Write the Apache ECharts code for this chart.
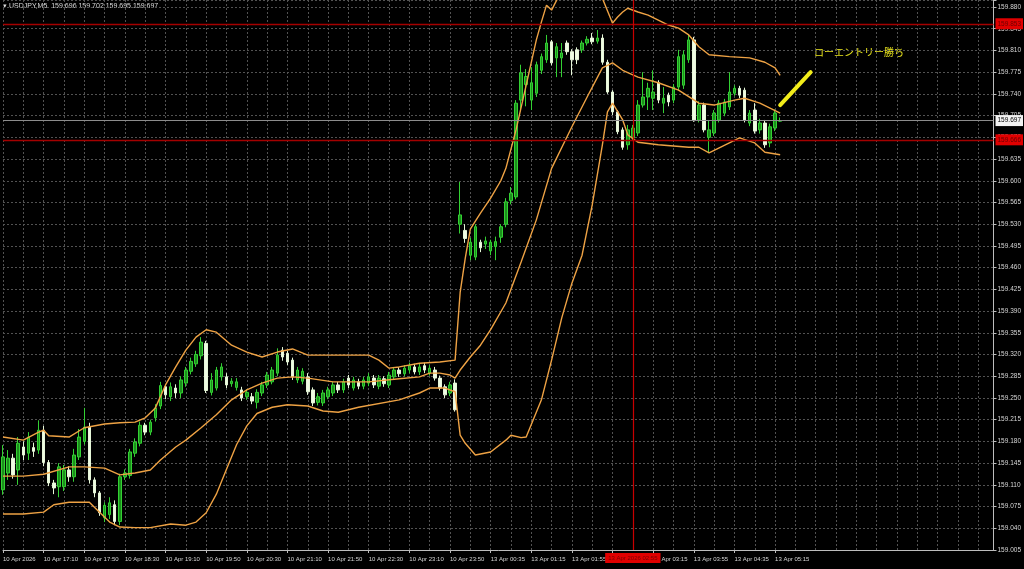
<!DOCTYPE html>
<html>
<head>
<meta charset="utf-8">
<script src="https://cdn.jsdelivr.net/npm/echarts/dist/echarts.min.js"></script>
<style>html,body{margin:0;padding:0;background:#000;}#c{width:1024px;height:569px;}</style>
</head>
<body>
<div id="c"></div>
<script>
// ---- data (USDJPY M5) ----
const headerText = '\u25BE USDJPY,M5  159.696 159.702 159.695 159.697';
const annotationText = 'ローエントリー勝ち';

const opens = [
159.102,159.129,159.153,159.134,159.171,159.161,159.170,159.166,159.198,159.146,
159.113,159.107,159.107,159.134,159.123,159.155,159.180,159.203,159.118,159.097,
159.057,159.062,159.078,159.051,159.123,159.125,159.161,159.177,159.206,159.195,
159.218,159.237,159.268,159.252,159.266,159.258,159.274,159.293,159.305,159.318,
159.338,159.259,159.266,159.284,159.284,159.273,159.267,159.263,159.252,159.252,
159.243,159.258,159.271,159.276,159.290,159.327,159.322,159.311,159.279,159.277,
159.284,159.263,159.243,159.242,159.252,159.258,159.271,159.263,159.282,159.266,
159.276,159.269,159.274,159.282,159.269,159.281,159.271,159.284,159.295,159.289,
159.295,159.300,159.292,159.302,159.290,159.295,159.282,159.268,159.258,159.274,
159.530,159.520,159.480,159.477,159.501,159.498,159.487,159.494,159.509,159.530,
159.568,159.574,159.730,159.755,159.730,159.741,159.778,159.795,159.824,159.798,
159.798,159.822,159.808,159.811,159.811,159.822,159.830,159.825,159.830,159.791,
159.743,159.711,159.682,159.658,159.669,159.677,159.722,159.735,159.733,159.758,
159.725,159.738,159.730,159.751,159.754,159.795,159.827,159.698,159.722,159.670,
159.677,159.698,159.709,159.719,159.741,159.749,159.746,159.693,159.714,159.682,
159.693,159.661,159.685,159.696];
const closes = [
159.155,159.153,159.126,159.177,159.158,159.187,159.164,159.198,159.146,159.113,
159.105,159.139,159.134,159.123,159.158,159.187,159.203,159.118,159.097,159.065,
159.077,159.081,159.051,159.123,159.129,159.163,159.179,159.206,159.195,159.211,
159.234,159.270,159.255,159.268,159.258,159.279,159.295,159.309,159.320,159.340,
159.262,159.279,159.295,159.300,159.271,159.277,159.276,159.250,159.259,159.245,
159.259,159.271,159.287,159.295,159.319,159.316,159.308,159.284,159.295,159.293,
159.260,159.242,159.252,159.258,159.263,159.271,159.263,159.276,159.271,159.279,
159.269,159.279,159.284,159.271,159.282,159.273,159.287,159.295,159.289,159.298,
159.302,159.292,159.300,159.295,159.298,159.282,159.266,159.255,159.271,159.231,
159.545,159.507,159.501,159.526,159.492,159.503,159.501,159.502,159.526,159.566,
159.580,159.725,159.774,159.768,159.758,159.787,159.800,159.822,159.790,159.816,
159.806,159.808,159.795,159.795,159.822,159.828,159.824,159.830,159.791,159.743,
159.711,159.679,159.654,159.682,159.685,159.722,159.735,159.749,159.743,159.730,
159.733,159.727,159.751,159.800,159.803,159.827,159.698,159.722,159.682,159.682,
159.709,159.725,159.727,159.743,159.749,159.738,159.698,159.709,159.680,159.693,
159.658,159.687,159.709,159.697];
const lows = [
159.094,159.118,159.120,159.110,159.150,159.150,159.155,159.160,159.140,159.108,
159.095,159.090,159.100,159.115,159.115,159.150,159.175,159.112,159.090,159.060,
159.050,159.055,159.045,159.045,159.118,159.120,159.155,159.172,159.190,159.190,
159.212,159.232,159.248,159.245,159.250,159.250,159.268,159.288,159.300,159.312,
159.258,159.254,159.262,159.278,159.266,159.268,159.262,159.245,159.247,159.240,
159.233,159.253,159.266,159.272,159.285,159.310,159.303,159.279,159.274,159.272,
159.255,159.237,159.238,159.237,159.248,159.253,159.258,159.258,159.266,159.262,
159.264,159.264,159.269,159.266,159.264,159.268,159.266,159.280,159.284,159.285,
159.290,159.288,159.287,159.290,159.286,159.278,159.262,159.250,159.253,159.228,
159.515,159.500,159.472,159.472,159.485,159.490,159.480,159.472,159.500,159.525,
159.562,159.570,159.714,159.720,159.714,159.735,159.772,159.790,159.786,159.767,
159.767,159.803,159.770,159.788,159.806,159.818,159.820,159.821,159.787,159.740,
159.706,159.675,159.650,159.650,159.664,159.672,159.718,159.714,159.714,159.725,
159.709,159.720,159.725,159.745,159.748,159.790,159.695,159.694,159.678,159.646,
159.672,159.694,159.704,159.714,159.737,159.733,159.694,159.688,159.676,159.676,
159.653,159.654,159.680,159.695];
const highs = [
159.174,159.166,159.160,159.187,159.180,159.195,159.178,159.214,159.205,159.150,
159.118,159.145,159.142,159.140,159.168,159.200,159.234,159.210,159.122,159.100,
159.082,159.090,159.085,159.128,159.135,159.168,159.185,159.212,159.210,159.215,
159.240,159.276,159.272,159.275,159.272,159.285,159.300,159.315,159.326,159.348,
159.342,159.290,159.300,159.306,159.290,159.282,159.282,159.268,159.264,159.258,
159.264,159.276,159.292,159.300,159.330,159.332,159.326,159.315,159.300,159.298,
159.290,159.267,159.258,159.263,159.268,159.276,159.276,159.281,159.287,159.284,
159.281,159.284,159.290,159.287,159.287,159.285,159.292,159.300,159.300,159.303,
159.307,159.305,159.305,159.307,159.303,159.300,159.286,159.272,159.276,159.280,
159.598,159.530,159.508,159.530,159.505,159.510,159.505,159.510,159.530,159.572,
159.590,159.730,159.787,159.780,159.783,159.792,159.805,159.835,159.827,159.822,
159.822,159.826,159.812,159.815,159.826,159.833,159.838,159.843,159.836,159.795,
159.746,159.714,159.686,159.690,159.690,159.730,159.775,159.758,159.778,159.762,
159.751,159.742,159.756,159.811,159.810,159.835,159.832,159.728,159.726,159.698,
159.714,159.730,159.732,159.775,159.754,159.753,159.750,159.714,159.725,159.700,
159.698,159.692,159.715,159.702];

// Bollinger band readings (bar index, price)
const upperIdx = [0,4,7,8,9,13,16,20,23,26,28,30,32,34,36,38,40,42,45,48,51,54,57,60,65,72,74,76,78,82,86,89,90,91,92,94,96,98,99,101,103,105,106,107,108,109,110,113,116,118,120,121,122,123,125,127,129,131,133,135,137,139,143,147,150,152,153];
const upperVal = [159.187,159.182,159.195,159.198,159.189,159.187,159.202,159.208,159.210,159.211,159.218,159.234,159.271,159.300,159.327,159.348,159.360,159.356,159.335,159.324,159.316,159.324,159.329,159.319,159.319,159.319,159.311,159.298,159.300,159.306,159.308,159.311,159.420,159.475,159.522,159.548,159.572,159.600,159.620,159.682,159.754,159.827,159.856,159.883,159.875,159.891,159.910,159.940,159.930,159.894,159.854,159.864,159.872,159.878,159.872,159.867,159.859,159.851,159.846,159.835,159.816,159.803,159.800,159.798,159.791,159.782,159.770];
const middleIdx = [0,4,8,13,16,20,23,26,29,31,34,36,39,42,45,48,51,54,57,60,65,72,78,82,84,86,88,89,90,92,94,96,99,102,105,108,112,115,118,120,122,125,129,133,137,140,144,146,149,153];
const middleVal = [159.124,159.124,159.127,159.139,159.139,159.137,159.126,159.129,159.134,159.150,159.171,159.182,159.202,159.223,159.247,159.263,159.274,159.282,159.284,159.282,159.276,159.276,159.281,159.284,159.290,159.290,159.287,159.282,159.295,159.316,159.335,159.360,159.403,159.469,159.537,159.620,159.687,159.735,159.782,159.790,159.778,159.767,159.758,159.746,159.725,159.722,159.730,159.733,159.725,159.709];
const lowerIdx = [0,4,8,10,13,17,19,21,23,26,29,33,36,38,40,42,44,46,48,50,53,56,60,63,66,70,78,82,84,87,89,90,91,93,96,99,100,102,103,106,108,110,112,114,116,118,119,120,122,123,125,129,135,137,139,141,145,148,150,153];
const lowerVal = [159.063,159.063,159.066,159.078,159.082,159.082,159.066,159.050,159.042,159.041,159.041,159.047,159.045,159.050,159.065,159.095,159.135,159.175,159.205,159.225,159.235,159.239,159.237,159.229,159.227,159.235,159.247,159.258,159.266,159.266,159.260,159.190,159.177,159.158,159.163,159.182,159.190,159.186,159.187,159.247,159.311,159.379,159.435,159.480,159.561,159.658,159.711,159.725,159.698,159.674,159.662,159.658,159.654,159.654,159.645,159.653,159.669,159.661,159.646,159.642];

// time-axis tick labels (every 8 bars)
const tickIdx = [0,8,16,24,32,40,48,56,64,72,80,88,96,104,112,120,128,136,144,152];
const tickLabels = ['10 Apr 2026','10 Apr 17:10','10 Apr 17:50','10 Apr 18:30','10 Apr 19:10','10 Apr 19:50','10 Apr 20:30','10 Apr 21:10','10 Apr 21:50','10 Apr 22:30','10 Apr 23:10','10 Apr 23:50','13 Apr 00:35','13 Apr 01:15','13 Apr 01:55','13 Apr 02:35','13 Apr 03:15','13 Apr 03:55','13 Apr 04:35','13 Apr 05:15'];

// horizontal levels
const redLevels = [159.853, 159.666];
const bidPrice = 159.697;
const cursorBar = 124;
const cursorLabel = '13 Apr 2026 02:55';
const arrowFrom = [153, 159.722];
const arrowTo = [159, 159.775];

// ---- categories (M5 bars + empty right shift) ----
function pad(n){return (n<10?'0':'')+n;}
const times = [];
for (let k=0;k<90;k++){const m=16*60+30+5*k;times.push('10 Apr '+pad(Math.floor(m/60))+':'+pad(m%60));}
for (let k=0;k<64;k++){const m=5+5*k;times.push('13 Apr '+pad(Math.floor(m/60))+':'+pad(m%60));}
while (times.length<196) times.push('');

const labelMap = {};
tickIdx.forEach((t,k)=>{labelMap[t]=tickLabels[k];});

const candleData = opens.map((o,i)=>[o, closes[i], lows[i], highs[i]]);
const pairs = (idx, val) => idx.map((x,k)=>[x, val[k]]);

const chart = echarts.init(document.getElementById('c'), null, {renderer:'canvas'});
const bandColor = '#eea244';
const gridColor = '#525252';
const axisTextColor = '#d6d6d6';
const fontFam = 'Liberation Sans, Arial, sans-serif';

function bandSeries(name, data){
  return {name, type:'line', data, showSymbol:false, symbol:'none', z:3,
    lineStyle:{color:bandColor, width:1.4}, connectNulls:true, animation:false, silent:true};
}

chart.setOption({
  backgroundColor:'#000000',
  animation:false,
  grid:{left:-1, right:27, top:0, bottom:19},
  xAxis:{
    type:'category', data:times, boundaryGap:false,
    axisLine:{show:true, lineStyle:{color:'#bdbdbd', width:1}},
    axisTick:{show:true, length:3, interval:(i)=>labelMap[i]!==undefined, lineStyle:{color:'#bdbdbd'}},
    axisLabel:{interval:(i)=>labelMap[i]!==undefined, formatter:(v,i)=>labelMap[i]||'', color:axisTextColor,
      fontSize:6, fontFamily:fontFam, align:'left', margin:6},
    splitLine:{show:true, interval:(i)=>i%4===0, lineStyle:{color:gridColor, type:[2,2], width:1}}
  },
  yAxis:{
    type:'value', position:'right', min:159.005, max:159.8913, interval:0.035,
    axisLine:{show:true, lineStyle:{color:'#bdbdbd', width:1}},
    axisTick:{show:true, length:3, lineStyle:{color:'#bdbdbd'}},
    axisLabel:{color:axisTextColor, fontSize:6.5, fontFamily:fontFam, margin:4,
      formatter:(v)=>{const k=(v-159.005)/0.035; return Math.abs(k-Math.round(k))<1e-6 ? v.toFixed(3) : '';}},
    splitLine:{show:true, lineStyle:{color:gridColor, type:[2,2], width:1}}
  },
  series:[
    {type:'candlestick', data:candleData, barWidth:3, z:2,
      itemStyle:{color:'#1c8f1c', color0:'#f0fbe4', borderColor:'#33d133', borderColor0:'#e6f7d8', borderWidth:1},
      markLine:{silent:true, symbol:['none','none'], animation:false, precision:3,
        data:[
          {yAxis:redLevels[0], lineStyle:{color:'#a40000', width:1.3, type:'solid'},
            label:{show:true, position:'end', distance:2, formatter:redLevels[0].toFixed(3), color:'#6a0000', backgroundColor:'#e10000', fontSize:6.5, fontFamily:fontFam, padding:[2,2]}},
          {yAxis:redLevels[1], lineStyle:{color:'#a40000', width:1.3, type:'solid'},
            label:{show:true, position:'end', distance:2, formatter:redLevels[1].toFixed(3), color:'#6a0000', backgroundColor:'#e10000', fontSize:6.5, fontFamily:fontFam, padding:[2,2]}},
          {yAxis:bidPrice, lineStyle:{color:'#8c8c8c', width:1, type:'solid'},
            label:{show:true, position:'end', distance:2, formatter:bidPrice.toFixed(3), color:'#000', backgroundColor:'#f2f2f2', fontSize:6.5, fontFamily:fontFam, padding:[2,2]}},
          {xAxis:cursorBar, lineStyle:{color:'#c80000', width:1.2, type:'solid'},
            label:{show:true, position:'start', distance:3, formatter:cursorLabel, color:'#7a0000', backgroundColor:'#e10000', fontSize:6, fontFamily:fontFam, padding:[2,3]}},
          [{coord:arrowFrom, lineStyle:{color:'#f2ec1a', width:4, type:'solid', cap:'round'}, label:{show:false}},
           {coord:arrowTo}]
        ]}
    },
    bandSeries('upper', pairs(upperIdx, upperVal)),
    bandSeries('middle', pairs(middleIdx, middleVal)),
    bandSeries('lower', pairs(lowerIdx, lowerVal))
  ],
  graphic:[
    {type:'text', left:3, top:3, style:{text:headerText, fill:'#dcdcdc', font:'7px '+fontFam}},
    {type:'text', left:814, top:47, style:{text:annotationText, fill:'#e8e41e', font:'10px "Noto Sans CJK JP"'}}
  ]
});
</script>
</body>
</html>
